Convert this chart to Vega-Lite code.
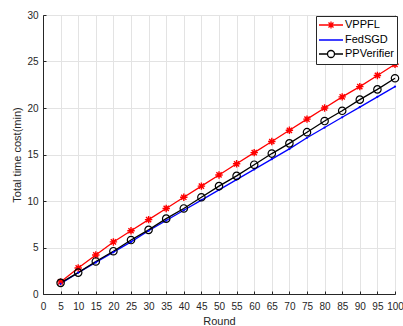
{
  "$schema": "https://vega.github.io/schema/vega-lite/v6.json",
  "width": 352,
  "height": 279,
  "autosize": {"type": "none"},
  "padding": {"left": 43, "top": 15, "right": 8, "bottom": 32},
  "background": "white",
  "config": {
    "font": "Liberation Sans",
    "view": {"stroke": "#262626", "strokeWidth": 1},
    "axis": {
      "labelFont": "Liberation Sans",
      "titleFont": "Liberation Sans",
      "labelFontSize": 10,
      "titleFontSize": 11,
      "labelColor": "#262626",
      "titleColor": "#262626",
      "titleFontWeight": "normal",
      "domainColor": "#262626",
      "tickColor": "#262626",
      "gridColor": "#e3e3e3",
      "gridWidth": 1
    }
  },
  "data": {
    "values": [
      {"round": 5, "series": "VPPFL", "cost": 1.3},
      {"round": 10, "series": "VPPFL", "cost": 2.8},
      {"round": 15, "series": "VPPFL", "cost": 4.2},
      {"round": 20, "series": "VPPFL", "cost": 5.6},
      {"round": 25, "series": "VPPFL", "cost": 6.8},
      {"round": 30, "series": "VPPFL", "cost": 8.0},
      {"round": 35, "series": "VPPFL", "cost": 9.2},
      {"round": 40, "series": "VPPFL", "cost": 10.4},
      {"round": 45, "series": "VPPFL", "cost": 11.6},
      {"round": 50, "series": "VPPFL", "cost": 12.8},
      {"round": 55, "series": "VPPFL", "cost": 14.0},
      {"round": 60, "series": "VPPFL", "cost": 15.2},
      {"round": 65, "series": "VPPFL", "cost": 16.4},
      {"round": 70, "series": "VPPFL", "cost": 17.6},
      {"round": 75, "series": "VPPFL", "cost": 18.8},
      {"round": 80, "series": "VPPFL", "cost": 20.0},
      {"round": 85, "series": "VPPFL", "cost": 21.2},
      {"round": 90, "series": "VPPFL", "cost": 22.3},
      {"round": 95, "series": "VPPFL", "cost": 23.5},
      {"round": 100, "series": "VPPFL", "cost": 24.7},
      {"round": 5, "series": "FedSGD", "cost": 1.1},
      {"round": 10, "series": "FedSGD", "cost": 2.3},
      {"round": 15, "series": "FedSGD", "cost": 3.4},
      {"round": 20, "series": "FedSGD", "cost": 4.5},
      {"round": 25, "series": "FedSGD", "cost": 5.6},
      {"round": 30, "series": "FedSGD", "cost": 6.8},
      {"round": 35, "series": "FedSGD", "cost": 7.9},
      {"round": 40, "series": "FedSGD", "cost": 9.0},
      {"round": 45, "series": "FedSGD", "cost": 10.1},
      {"round": 50, "series": "FedSGD", "cost": 11.2},
      {"round": 55, "series": "FedSGD", "cost": 12.3},
      {"round": 60, "series": "FedSGD", "cost": 13.4},
      {"round": 65, "series": "FedSGD", "cost": 14.5},
      {"round": 70, "series": "FedSGD", "cost": 15.6},
      {"round": 75, "series": "FedSGD", "cost": 16.8},
      {"round": 80, "series": "FedSGD", "cost": 17.9},
      {"round": 85, "series": "FedSGD", "cost": 19.0},
      {"round": 90, "series": "FedSGD", "cost": 20.1},
      {"round": 95, "series": "FedSGD", "cost": 21.2},
      {"round": 100, "series": "FedSGD", "cost": 22.3},
      {"round": 5, "series": "PPVerifier", "cost": 1.2},
      {"round": 10, "series": "PPVerifier", "cost": 2.3},
      {"round": 15, "series": "PPVerifier", "cost": 3.5},
      {"round": 20, "series": "PPVerifier", "cost": 4.6},
      {"round": 25, "series": "PPVerifier", "cost": 5.8},
      {"round": 30, "series": "PPVerifier", "cost": 6.9},
      {"round": 35, "series": "PPVerifier", "cost": 8.1},
      {"round": 40, "series": "PPVerifier", "cost": 9.2},
      {"round": 45, "series": "PPVerifier", "cost": 10.4},
      {"round": 50, "series": "PPVerifier", "cost": 11.6},
      {"round": 55, "series": "PPVerifier", "cost": 12.7},
      {"round": 60, "series": "PPVerifier", "cost": 13.9},
      {"round": 65, "series": "PPVerifier", "cost": 15.1},
      {"round": 70, "series": "PPVerifier", "cost": 16.2},
      {"round": 75, "series": "PPVerifier", "cost": 17.4},
      {"round": 80, "series": "PPVerifier", "cost": 18.6},
      {"round": 85, "series": "PPVerifier", "cost": 19.7},
      {"round": 90, "series": "PPVerifier", "cost": 20.9},
      {"round": 95, "series": "PPVerifier", "cost": 22.0},
      {"round": 100, "series": "PPVerifier", "cost": 23.2}
    ]
  },
  "encoding": {
    "x": {
      "field": "round",
      "type": "quantitative",
      "scale": {"domain": [0, 100], "nice": false},
      "axis": {
        "title": "Round",
        "values": [0,5,10,15,20,25,30,35,40,45,50,55,60,65,70,75,80,85,90,95,100],
        "ticks": true,
        "tickSize": -3,
        "labelPadding": 10,
        "labelFlush": false,
        "labelOverlap": false,
        "titlePadding": 4
      }
    },
    "y": {
      "field": "cost",
      "type": "quantitative",
      "scale": {"domain": [0, 30], "nice": false},
      "axis": {
        "title": "Total time cost(min)",
        "values": [0,5,10,15,20,25,30],
        "ticks": true,
        "tickSize": -3,
        "labelPadding": 8,
        "titlePadding": 4
      }
    }
  },
  "layer": [
    {
      "mark": {"type": "line", "strokeWidth": 1.3},
      "encoding": {
        "color": {
          "field": "series",
          "type": "nominal",
          "scale": {"domain": ["VPPFL", "FedSGD", "PPVerifier"], "range": ["#ff0000", "#0000ff", "#000000"]},
          "legend": {
            "title": null,
            "orient": "none",
            "legendX": 273,
            "legendY": 1,
            "strokeColor": "#262626",
            "fillColor": "white",
            "padding": 3,
            "labelFont": "Liberation Sans",
            "labelFontSize": 11,
            "labelColor": "#000000",
            "symbolSize": 100,
            "symbolOffset": 6,
            "labelOffset": 8,
            "symbolStrokeWidth": 1.3,
            "rowPadding": 2,
            "encode": {
              "symbols": {
                "update": {
                  "shape": {"signal": "datum.value == 'VPPFL' ? 'M-2.4,0L2.4,0M-0.7,0L0.7,0M0,-0.7L0,0.7M-0.5,-0.5L0.5,0.5M-0.5,0.5L0.5,-0.5' : datum.value == 'FedSGD' ? 'M-2.4,0L2.4,0M-0.1,0L0.1,0M0,-0.1L0,0.1' : 'M-2.4,0L-0.7,0M0.7,0L2.4,0M0.7,0A0.7,0.7 0 1,1 -0.7,0A0.7,0.7 0 1,1 0.7,0'"},
                  "fill": {"value": "transparent"},
                  "strokeWidth": {"value": 1.3}
                }
              }
            }
          }
        }
      }
    },
    {
      "transform": [{"filter": "datum.series == 'VPPFL'"}],
      "mark": {"type": "point", "filled": false, "color": "#ff0000", "strokeWidth": 1.4, "opacity": 1, "size": 55, "shape": "M-1,0L1,0M0,-1L0,1M-0.7,-0.7L0.7,0.7M-0.7,0.7L0.7,-0.7"}
    },
    {
      "transform": [{"filter": "datum.series == 'FedSGD'"}],
      "mark": {"type": "point", "filled": true, "color": "#0000ff", "opacity": 1, "size": 5, "shape": "circle"}
    },
    {
      "transform": [{"filter": "datum.series == 'PPVerifier'"}],
      "mark": {"type": "point", "filled": false, "color": "#000000", "strokeWidth": 1.2, "opacity": 1, "size": 55, "shape": "circle"}
    }
  ]
}
